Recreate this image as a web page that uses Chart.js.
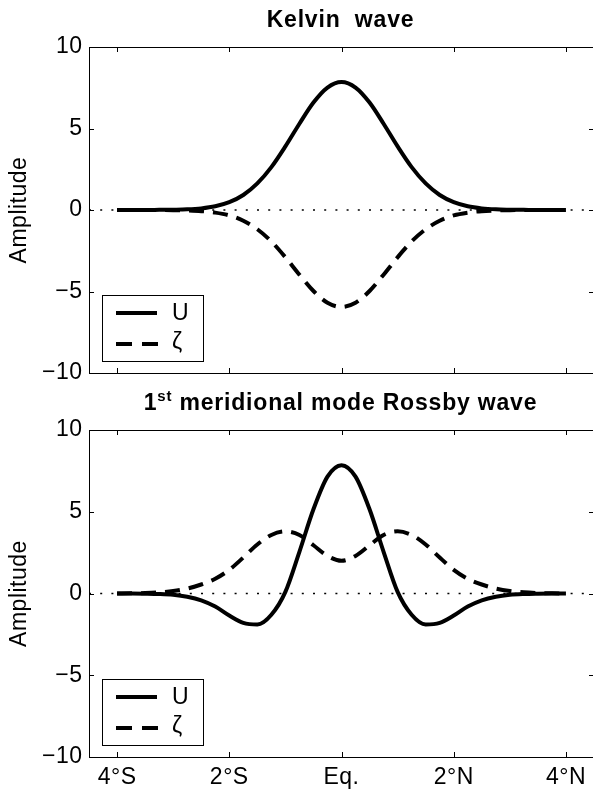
<!DOCTYPE html>
<html>
<head>
<meta charset="utf-8">
<script src="https://cdn.jsdelivr.net/npm/chart.js@4"></script>
<style>
  html, body { margin: 0; padding: 0; background: #fff; overflow: hidden; width: 593px; height: 793px; }
  canvas { position: absolute; left: 0; }
  #top { top: 0; }
  #bot { top: 380px; }
</style>
</head>
<body>
<canvas id="top" width="596" height="395"></canvas>
<canvas id="bot" width="596" height="413"></canvas>
<script>
// latitude (degrees, negative = south)
const lat = [-4,-3.75,-3.5,-3.25,-3,-2.75,-2.5,-2.25,-2,-1.75,-1.5,-1.25,-1,-0.75,-0.5,-0.25,0,
             0.25,0.5,0.75,1,1.25,1.5,1.75,2,2.25,2.5,2.75,3,3.25,3.5,3.75,4];

// Kelvin wave
const kelvinU = [0,0,0,0.01,0.02,0.04,0.1,0.23,0.48,0.92,1.63,2.63,3.9,5.29,6.59,7.51,7.85,
                 7.51,6.59,5.29,3.9,2.63,1.63,0.92,0.48,0.23,0.1,0.04,0.02,0.01,0,0,0];
const kelvinZeta = [0,0,0,0,-0.01,-0.03,-0.07,-0.16,-0.33,-0.66,-1.18,-1.93,-2.9,-3.97,-4.97,-5.69,-5.95,
                    -5.69,-4.97,-3.97,-2.9,-1.93,-1.18,-0.66,-0.33,-0.16,-0.07,-0.03,-0.01,0,0,0,0];

// 1st meridional mode Rossby wave
const rossbyU = [0,0,-0.01,-0.03,-0.08,-0.2,-0.42,-0.8,-1.35,-1.8,-1.9,-1.3,0.1,2.55,5.15,7.15,7.85,
                 7.15,5.15,2.55,0.1,-1.3,-1.9,-1.8,-1.35,-0.8,-0.42,-0.2,-0.08,-0.03,-0.01,0,0];
const rossbyZeta = [0,0.01,0.03,0.07,0.15,0.3,0.55,0.9,1.45,2.2,3.0,3.58,3.8,3.58,2.95,2.3,2.0,
                    2.3,2.95,3.58,3.8,3.58,3.0,2.2,1.45,0.9,0.55,0.3,0.15,0.07,0.03,0.01,0];

const xTicks = [-4,-2,0,2,4];
const xLabels = ['4°S','2°S','Eq.','2°N','4°N'];
const yTicks = [-10,-5,0,5,10];
const yLabels = ['\u221210','\u22125','0','5','10'];
const seriesNames = ['U','ζ'];

const FONT = "'Liberation Sans', Arial, Helvetica, sans-serif";

const pts = arr => lat.map((x, i) => ({x: x, y: arr[i]}));

const frame = {
  id: 'frame',
  beforeDraw(chart) {
    chart.ctx.letterSpacing = '0.5px';
  },
  afterDatasetsDraw(chart, args, opts) {
    const ctx = chart.ctx;
    const a = chart.chartArea;
    const xs = chart.scales.x, ys = chart.scales.y;
    ctx.save();
    ctx.strokeStyle = '#000';
    ctx.lineWidth = 1;
    ctx.setLineDash([]);
    ctx.strokeRect(a.left + 0.5, a.top + 0.5, a.right - a.left, a.bottom - a.top);
    ctx.beginPath();
    xTicks.forEach(v => {
      const px = Math.round(xs.getPixelForValue(v)) + 0.5;
      ctx.moveTo(px, a.top); ctx.lineTo(px, a.top + 5);
      ctx.moveTo(px, a.bottom); ctx.lineTo(px, a.bottom - 5);
    });
    yTicks.forEach(v => {
      const py = Math.round(ys.getPixelForValue(v)) + 0.5;
      ctx.moveTo(a.left, py); ctx.lineTo(a.left + 5, py);
      ctx.moveTo(a.right, py); ctx.lineTo(a.right - 5, py);
    });
    ctx.stroke();

    // title
    ctx.fillStyle = '#000';
    ctx.textBaseline = 'alphabetic';
    ctx.letterSpacing = '0.8px';
    const cx = (a.left + a.right) / 2 - 1;
    const big = 'bold 23px ' + FONT, small = 'bold 15px ' + FONT;
    if (opts.sup) {
      ctx.font = big; const w1 = ctx.measureText(opts.title[0]).width;
      const w3 = ctx.measureText(opts.title[2]).width;
      ctx.font = small; const w2 = ctx.measureText(opts.title[1]).width;
      let x0 = cx - (w1 + w2 + w3) / 2;
      ctx.textAlign = 'left';
      ctx.font = big; ctx.fillText(opts.title[0], x0, opts.titleY);
      ctx.font = small; ctx.fillText(opts.title[1], x0 + w1, opts.titleY - 9);
      ctx.font = big; ctx.fillText(opts.title[2], x0 + w1 + w2, opts.titleY);
    } else {
      ctx.font = big; ctx.textAlign = 'center';
      ctx.fillText(opts.title, cx, opts.titleY);
    }

    // y label
    ctx.save();
    ctx.translate(20, (a.top + a.bottom) / 2);
    ctx.rotate(-Math.PI / 2);
    ctx.font = '23px ' + FONT;
    ctx.letterSpacing = '0.5px';
    ctx.textAlign = 'center';
    ctx.textBaseline = 'middle';
    ctx.fillText('Amplitude', 0, 0);
    ctx.restore();

    // legend box
    const bx = a.left + 13, bw = 101, bh = 66;
    const by = a.bottom - 12 - bh;
    ctx.fillStyle = '#fff';
    ctx.fillRect(bx, by, bw, bh);
    ctx.lineWidth = 1;
    ctx.strokeRect(bx + 0.5, by + 0.5, bw, bh);
    ctx.lineWidth = 4;
    ctx.beginPath(); ctx.moveTo(bx + 14, by + 18); ctx.lineTo(bx + 55, by + 18); ctx.stroke();
    ctx.setLineDash([16, 10]);
    ctx.beginPath(); ctx.moveTo(bx + 14, by + 49); ctx.lineTo(bx + 57, by + 49); ctx.stroke();
    ctx.setLineDash([]);
    ctx.fillStyle = '#000';
    ctx.font = '23px ' + FONT;
    ctx.letterSpacing = '0px';
    ctx.textAlign = 'left';
    ctx.textBaseline = 'middle';
    ctx.fillText(seriesNames[0], bx + 70, by + 19);
    ctx.fillText(seriesNames[1], bx + 70, by + 48);
    ctx.restore();
  }
};

function makeChart(id, u, z, cfg) {
  return new Chart(document.getElementById(id), {
    type: 'line',
    data: {
      datasets: [
        { label: seriesNames[0], data: pts(u), borderColor: '#000', borderWidth: 4,
          pointRadius: 0, cubicInterpolationMode: 'monotone', fill: false },
        { label: seriesNames[1], data: pts(z), borderColor: '#000', borderWidth: 4,
          borderDash: [15, 9], pointRadius: 0, cubicInterpolationMode: 'monotone', fill: false },
        { label: 'zero', data: [{x: -4.5, y: 0}, {x: 4.5, y: 0}], borderColor: '#000',
          borderWidth: 1.5, borderDash: [2, 9.2], pointRadius: 0, fill: false }
      ]
    },
    options: {
      responsive: false,
      animation: false,
      devicePixelRatio: 1,
      layout: { padding: { top: cfg.padTop, right: 2, left: 0, bottom: 0 } },
      plugins: {
        legend: { display: false },
        title: { display: false },
        tooltip: { enabled: false },
        frame: { title: cfg.title, sup: cfg.sup, titleY: cfg.titleY }
      },
      scales: {
        x: {
          type: 'linear', min: -4.5, max: 4.5,
          grid: { display: false, drawTicks: false },
          border: { display: false },
          afterBuildTicks: s => { s.ticks = xTicks.map(v => ({value: v})); },
          afterFit: s => { s.height = cfg.xHeight; },
          ticks: {
            display: cfg.showX, padding: 7, color: '#000',
            font: { family: FONT, size: 23 },
            maxRotation: 0,
            callback: v => xLabels[xTicks.indexOf(v)]
          }
        },
        y: {
          min: -10, max: 10,
          grid: { display: false, drawTicks: false },
          border: { display: false },
          afterBuildTicks: s => { s.ticks = yTicks.map(v => ({value: v})); },
          afterFit: s => { s.width = 89; },
          ticks: {
            padding: 6.5, color: '#000',
            font: { family: FONT, size: 23 },
            callback: v => yLabels[yTicks.indexOf(v)]
          }
        }
      }
    },
    plugins: [frame]
  });
}

makeChart('top', kelvinU, kelvinZeta,
  { padTop: 47, xHeight: 22, showX: false, title: 'Kelvin  wave', sup: false, titleY: 27 });
makeChart('bot', rossbyU, rossbyZeta,
  { padTop: 50, xHeight: 36, showX: true, title: ['1', 'st', ' meridional mode Rossby wave'], sup: true, titleY: 30 });
</script>
</body>
</html>
